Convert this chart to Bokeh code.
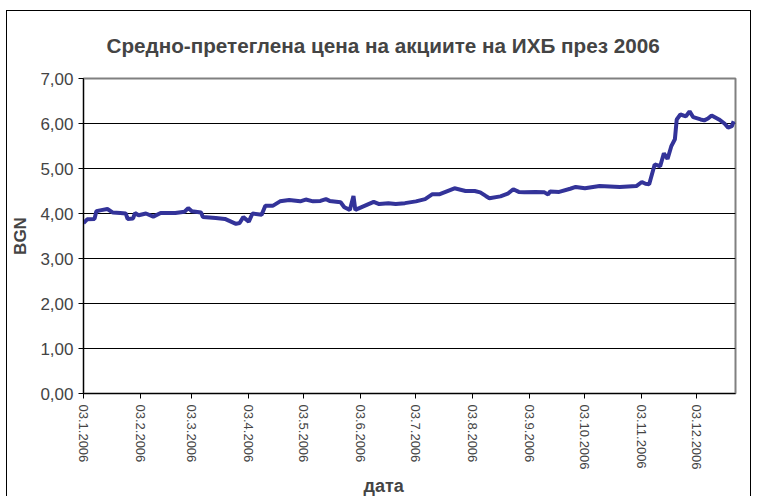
import datetime as dt
from bokeh.plotting import figure
from bokeh.models import FixedTicker, Range1d, ColumnDataSource, Title
from bokeh.embed import file_html
from bokeh.resources import INLINE

# ---- data ----
dates = [
    "2006-01-03", "2006-01-05", "2006-01-09", "2006-01-10", "2006-01-12", "2006-01-16",
    "2006-01-19", "2006-01-23", "2006-01-26", "2006-01-27", "2006-01-30", "2006-01-31",
    "2006-02-02", "2006-02-06", "2006-02-10", "2006-02-14", "2006-02-22", "2006-02-27",
    "2006-03-01", "2006-03-03", "2006-03-08", "2006-03-09", "2006-03-16", "2006-03-21",
    "2006-03-27", "2006-03-29", "2006-03-31", "2006-04-03", "2006-04-05", "2006-04-10",
    "2006-04-12", "2006-04-16", "2006-04-20", "2006-04-25", "2006-05-01", "2006-05-04",
    "2006-05-08", "2006-05-12", "2006-05-15", "2006-05-17", "2006-05-23", "2006-05-25",
    "2006-05-28", "2006-05-30", "2006-05-31", "2006-06-05", "2006-06-10", "2006-06-13",
    "2006-06-18", "2006-06-22", "2006-06-27", "2006-07-03", "2006-07-08", "2006-07-12",
    "2006-07-16", "2006-07-24", "2006-07-30", "2006-08-04", "2006-08-07", "2006-08-10",
    "2006-08-12", "2006-08-18", "2006-08-22", "2006-08-25", "2006-08-28", "2006-08-31",
    "2006-09-06", "2006-09-11", "2006-09-13", "2006-09-14", "2006-09-19", "2006-09-25",
    "2006-09-28", "2006-10-03", "2006-10-11", "2006-10-22", "2006-10-31", "2006-11-03",
    "2006-11-05", "2006-11-07", "2006-11-10", "2006-11-13", "2006-11-15", "2006-11-17",
    "2006-11-19", "2006-11-21", "2006-11-22", "2006-11-24", "2006-11-27", "2006-11-29",
    "2006-12-01", "2006-12-05", "2006-12-07", "2006-12-09", "2006-12-11", "2006-12-15",
    "2006-12-18", "2006-12-20", "2006-12-22", "2006-12-23",
]
prices = [
    3.79, 3.87, 3.88, 4.05, 4.07, 4.10,
    4.02, 4.01, 4.00, 3.88, 3.89, 4.01,
    3.96, 4.00, 3.93, 4.01, 4.01, 4.04,
    4.12, 4.05, 4.02, 3.92, 3.90, 3.88,
    3.77, 3.79, 3.92, 3.82, 4.00, 3.97,
    4.17, 4.17, 4.27, 4.30, 4.27, 4.31,
    4.27, 4.28, 4.32, 4.28, 4.25, 4.14,
    4.08, 4.39, 4.08, 4.17, 4.26, 4.21,
    4.23, 4.21, 4.23, 4.27, 4.32, 4.43,
    4.43, 4.56, 4.50, 4.50, 4.47, 4.39,
    4.34, 4.38, 4.44, 4.54, 4.48, 4.47,
    4.48, 4.47, 4.42, 4.49, 4.48, 4.55,
    4.59, 4.56, 4.61, 4.59, 4.61, 4.70,
    4.66, 4.65, 5.09, 5.05, 5.34, 5.21,
    5.49, 5.65, 6.09, 6.20, 6.16, 6.27,
    6.14, 6.09, 6.07, 6.11, 6.18, 6.09,
    6.00, 5.91, 5.94, 6.05,
]
x_tick_dates = ["2006-01-03", "2006-02-03", "2006-03-03", "2006-04-03", "2006-05-03",
                "2006-06-03", "2006-07-03", "2006-08-03", "2006-09-03", "2006-10-03",
                "2006-11-03", "2006-12-03"]
x_tick_labels = ["03.1.2006", "03.2.2006", "03.3.2006", "03.4.2006", "03.5.2006",
                 "03.6.2006", "03.7.2006", "03.8.2006", "03.9.2006", "03.10.2006",
                 "03.11.2006", "03.12.2006"]
y_ticks = [0, 1, 2, 3, 4, 5, 6, 7]
y_tick_labels = ["0,00", "1,00", "2,00", "3,00", "4,00", "5,00", "6,00", "7,00"]
title_text = "Средно-претеглена цена на акциите на ИХБ през 2006"
x_label = "дата"
y_label = "BGN"
x_start, x_end = "2006-01-03", "2006-12-24"

FONT = "Liberation Sans"


def to_ms(s):
    d = dt.datetime.strptime(s, "%Y-%m-%d")
    return (d - dt.datetime(1970, 1, 1)).total_seconds() * 1000.0


src = ColumnDataSource(dict(x=[to_ms(d) for d in dates], y=prices))

p = figure(width=745, height=486, output_backend="svg", toolbar_location=None,
           x_axis_type="datetime",
           x_range=Range1d(to_ms(x_start), to_ms(x_end)),
           y_range=Range1d(0, 7),
           min_border_left=76, min_border_right=17, min_border_top=66, min_border_bottom=104)

p.styles = {"margin-left": "6px", "margin-top": "10px",
            "border-left": "1px solid black", "border-top": "1px solid black",
            "border-right": "1px solid black"}

p.line("x", "y", source=src, line_width=4, line_color="#333399")

p.title.text = title_text
p.title.text_font = FONT
p.title.text_font_size = "20.7px"
p.title.text_font_style = "bold"
p.title.align = "left"
p.title.vertical_align = "middle"
p.title.offset = 23
p.title.standoff = 42

p.outline_line_color = "#808080"
p.outline_line_width = 2
p.background_fill_color = "white"
p.border_fill_color = "white"

p.xgrid.grid_line_color = None
p.ygrid.grid_line_color = "black"
p.ygrid.grid_line_width = 1
p.ygrid.ticker = FixedTicker(ticks=y_ticks)

xa = p.xaxis[0]
xa.ticker = FixedTicker(ticks=[to_ms(d) for d in x_tick_dates])
xa.major_label_overrides = {to_ms(d): lab for d, lab in zip(x_tick_dates, x_tick_labels)}
xa.major_label_orientation = "vertical"
xa.major_label_text_font = FONT
xa.major_label_text_font_size = "13px"
xa.major_label_standoff = 6
xa.major_tick_in = 0
xa.major_tick_out = 5
xa.minor_tick_out = 0
xa.minor_tick_in = 0
xa.axis_line_color = "black"
xa.major_tick_line_color = "black"

x_title = Title(text=x_label, text_font=FONT, text_font_size="18px",
                text_font_style="bold", align="left", offset=280, standoff=3)
p.add_layout(x_title, "below")

ya = p.yaxis[0]
ya.ticker = FixedTicker(ticks=y_ticks)
ya.major_label_overrides = {t: lab for t, lab in zip(y_ticks, y_tick_labels)}
ya.major_label_text_font = FONT
ya.major_label_text_font_size = "17px"
ya.major_label_standoff = 5
ya.major_tick_in = 0
ya.major_tick_out = 5
ya.minor_tick_out = 0
ya.minor_tick_in = 0
ya.axis_line_color = "black"
ya.major_tick_line_color = "black"
ya.axis_label = y_label
ya.axis_label_text_font = FONT
ya.axis_label_text_font_size = "17px"
ya.axis_label_text_font_style = "bold"
ya.axis_label_standoff = 7

open("out.html", "w").write(file_html(p, INLINE))
